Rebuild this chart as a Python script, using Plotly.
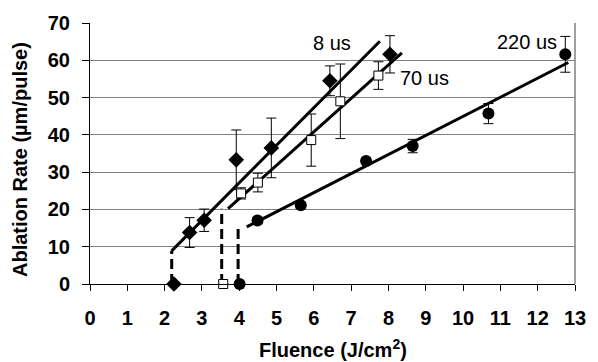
import plotly.graph_objects as go

# ---- data ----
x8 = [2.25, 2.67, 3.06, 3.92, 4.86, 6.43, 8.04]
y8 = [0, 13.8, 17.1, 33.3, 36.5, 54.5, 61.6]
e8 = [0, 4, 3, 8, 8, 4, 5]

x70 = [3.57, 4.05, 4.5, 5.93, 6.71, 7.73]
y70 = [0, 24.3, 27.2, 38.6, 49.0, 55.9]
e70 = [0, 1.5, 2.5, 7, 10, 3.7]

x220 = [4.01, 4.49, 5.65, 7.40, 8.65, 10.68, 12.74]
y220 = [0, 17.0, 21.1, 33.0, 37.0, 45.7, 61.6]
e220 = [0, 0.8, 0.8, 0.8, 1.8, 2.7, 4.8]

# linear fit lines (endpoints)
fit8_x, fit8_y = [2.19, 7.77], [8.9, 65.1]
fit70_x, fit70_y = [3.70, 8.36], [20.2, 62.0]
fit220_x, fit220_y = [4.20, 12.82], [15.3, 59.4]

# threshold dashed lines
thr_x = [2.19, 3.53, 3.97]
thr_top = [8.9, 20.2, 15.3]

labels = ["8 us", "70 us", "220 us"]
label_x = [6.48, 8.97, 11.70]
label_y = [64.7, 55.2, 64.9]

x_ticks = list(range(0, 14))
y_ticks = list(range(0, 71, 10))

FONT = "Liberation Sans, Arial, sans-serif"

fig = go.Figure()

# dashed threshold lines
for tx, tt in zip(thr_x, thr_top):
    fig.add_trace(go.Scatter(x=[tx, tx], y=[0, tt], mode="lines",
                             line=dict(color="black", width=3, dash="10px,5px"),
                             showlegend=False, hoverinfo="skip", cliponaxis=False))

# fit lines
for fx, fy in [(fit8_x, fit8_y), (fit70_x, fit70_y), (fit220_x, fit220_y)]:
    fig.add_trace(go.Scatter(x=fx, y=fy, mode="lines",
                             line=dict(color="black", width=3),
                             showlegend=False, hoverinfo="skip"))

err_style = dict(type="data", color="black", thickness=1, width=5)

fig.add_trace(go.Scatter(x=x8, y=y8, mode="markers",
                         error_y=dict(array=e8, **err_style),
                         marker=dict(symbol="diamond", size=12, color="black"),
                         showlegend=False, cliponaxis=False))
fig.add_trace(go.Scatter(x=x70, y=y70, mode="markers",
                         error_y=dict(array=e70, **err_style),
                         marker=dict(symbol="square", size=9, color="white",
                                     line=dict(color="black", width=1)),
                         showlegend=False, cliponaxis=False))
fig.add_trace(go.Scatter(x=x220, y=y220, mode="markers",
                         error_y=dict(array=e220, **err_style),
                         marker=dict(symbol="circle", size=12, color="black"),
                         showlegend=False, cliponaxis=False))

for t, lx, ly in zip(labels, label_x, label_y):
    fig.add_annotation(x=lx, y=ly, text=t, showarrow=False,
                       font=dict(family=FONT, size=20, color="black"),
                       xanchor="center", yanchor="middle")

# axis titles as annotations
fig.add_annotation(xref="paper", yref="paper", x=0.5, y=0, yanchor="bottom",
                   yshift=-79, text="<b>Fluence (J/cm<sup>2</sup>)</b>",
                   showarrow=False, font=dict(family=FONT, size=20, color="black"))
fig.add_annotation(xref="paper", yref="paper", x=0, y=0.475, xanchor="center",
                   xshift=-70, textangle=-90,
                   text="<b>Ablation Rate (µm/pulse)</b>",
                   showarrow=False, font=dict(family=FONT, size=20, color="black"))

# right border
fig.add_shape(type="line", xref="paper", yref="paper", x0=1, x1=1, y0=0, y1=1,
              line=dict(color="#808080", width=1.5))

fig.update_layout(
    width=598, height=362,
    margin=dict(l=90, r=13, t=19, b=78),
    paper_bgcolor="white", plot_bgcolor="white",
    font=dict(family=FONT, size=20, color="black"),
    showlegend=False,
)
fig.update_xaxes(range=[0, 13], tickvals=x_ticks, ticktext=[str(v) for v in x_ticks],
                 showgrid=False, zeroline=False, showline=True, linecolor="black",
                 linewidth=1, ticks="outside", ticklen=6, tickcolor="black",
                 tickfont=dict(family=FONT, size=20, color="black", weight="bold"),
                 ticklabelstandoff=10)
fig.update_yaxes(range=[0, 70], tickvals=y_ticks, ticktext=[str(v) for v in y_ticks],
                 showgrid=True, gridcolor="#808080", gridwidth=1,
                 zeroline=False, showline=True, linecolor="black", linewidth=1,
                 ticks="outside", ticklen=7, tickcolor="black",
                 tickfont=dict(family=FONT, size=20, color="black", weight="bold"),
                 ticklabelstandoff=8)

fig.write_html("out.html")
